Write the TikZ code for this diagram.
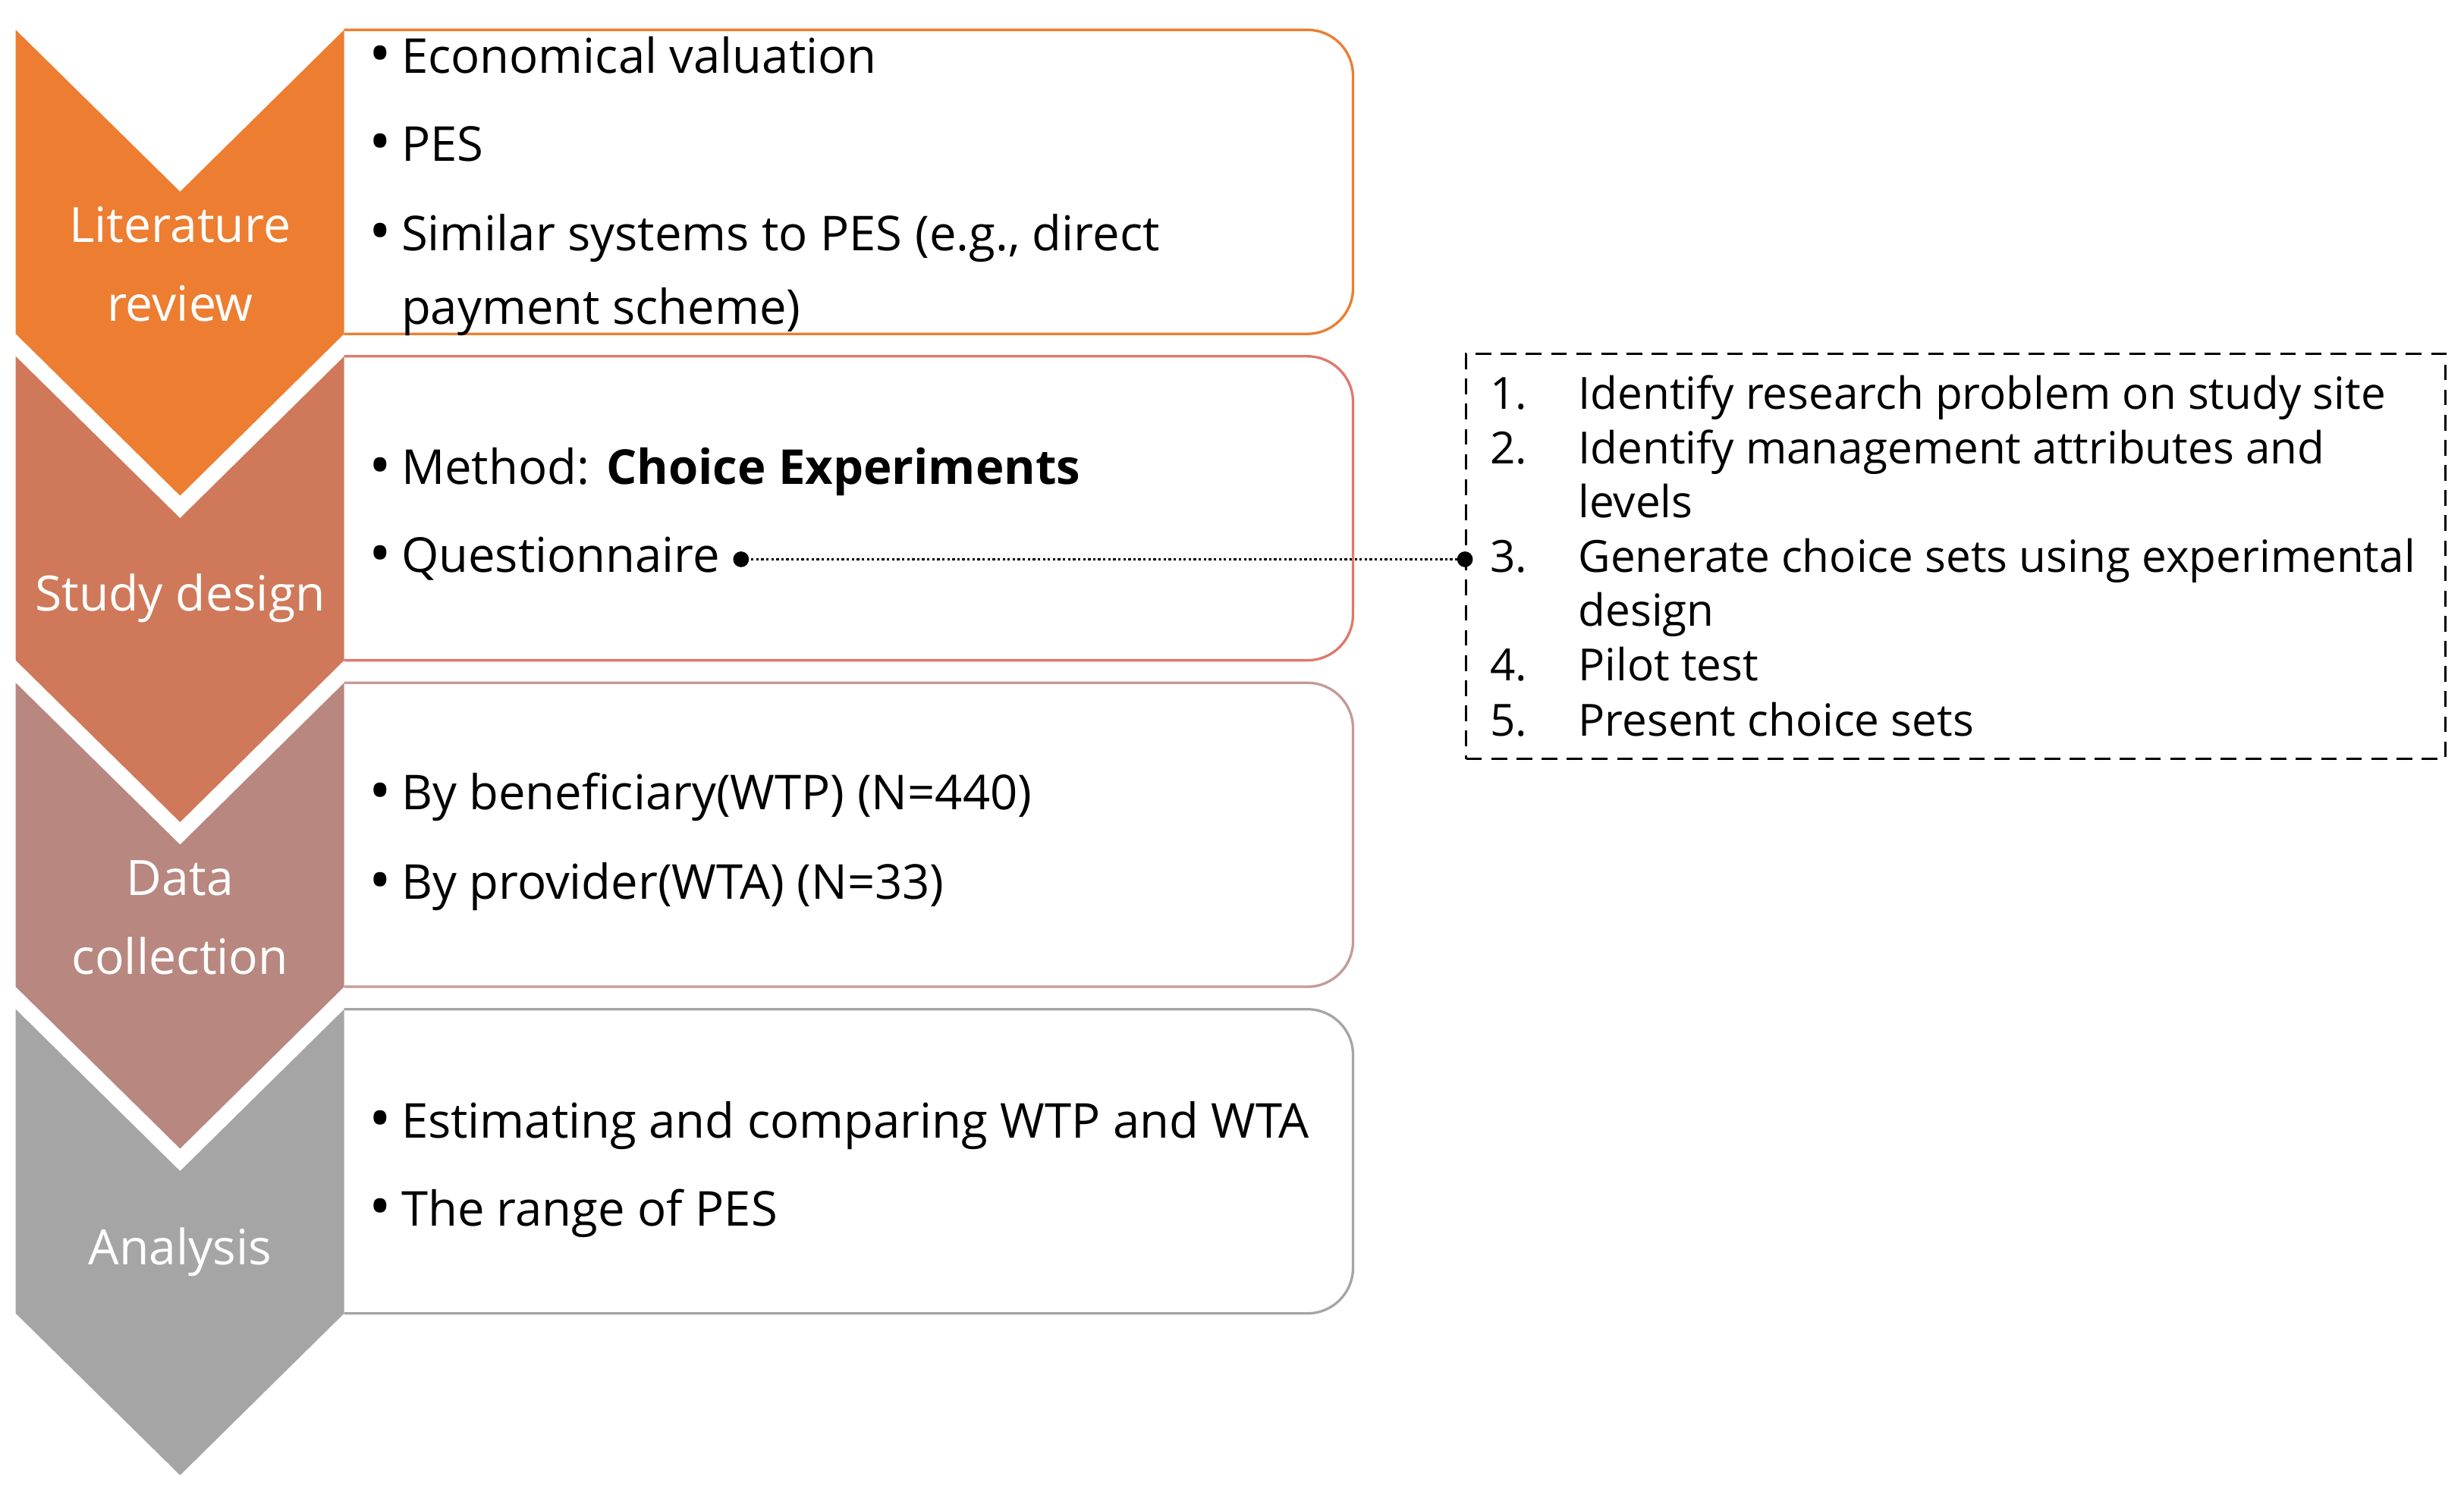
\documentclass[tikz,border=0pt]{standalone}
\usepackage{fontspec}
\setmainfont{Open Sans}
\usetikzlibrary{calc}
\definecolor{cOne}{HTML}{ED7D31}
\definecolor{cTwo}{HTML}{CF795A}
\definecolor{cThree}{HTML}{B88780}
\definecolor{cFour}{HTML}{A5A5A5}
\definecolor{bTwo}{HTML}{E0786C}
\definecolor{bThree}{HTML}{C49A98}
\newcommand{\blt}{\llap{\raisebox{-0.6pt}{\fontsize{19}{19}\selectfont •}\hspace{3.2pt}}}
\begin{document}
\begin{tikzpicture}[x=0.5pt,y=-0.5pt,
  boxtxt/.style={anchor=mid west, inner sep=0pt, font=\fontsize{15.3}{18}\selectfont, text=black},
  steptxt/.style={anchor=mid west, inner sep=0pt, font=\fontsize{14.1}{17}\selectfont, text=black},
  chevlabel/.style={align=center, text=white, inner sep=0pt, font=\fontsize{15.5}{25}\selectfont},
  panel/.style={line width=0.8pt, rounded corners=14.5pt},
  dotline/.style={line width=0.8pt, dash pattern=on 0.8pt off 0.8pt},
  stepsbox/.style={draw=black, line width=0.75pt, dash pattern=on 5pt off 3pt, inner sep=0pt, minimum width=311.5pt, minimum height=129pt}
]
\useasboundingbox (0,0) rectangle (1568,959);
\fill[white] (0,0) rectangle (1568,959);

% content panels
\draw[panel, draw=cOne]   (219,19)    -- (861,19)    -- (861,212.5) -- (219,212.5);
\draw[panel, draw=bTwo]   (219,226.8) -- (861,226.8) -- (861,420.3) -- (219,420.3);
\draw[panel, draw=bThree] (219,434.6) -- (861,434.6) -- (861,628.1) -- (219,628.1);
\draw[panel, draw=cFour]  (219,642.4) -- (861,642.4) -- (861,836)   -- (219,836);

% chevrons
\fill[cOne]   (10,19)    -- (114.6,122)   -- (219,19)    -- (219,212.5) -- (114.6,315.5) -- (10,212.5) -- cycle;
\fill[cTwo]   (10,226.8) -- (114.6,329.8) -- (219,226.8) -- (219,420.3) -- (114.6,523.3) -- (10,420.3) -- cycle;
\fill[cThree] (10,434.6) -- (114.6,537.6) -- (219,434.6) -- (219,628.1) -- (114.6,731.1) -- (10,628.1) -- cycle;
\fill[cFour]  (10,642.4) -- (114.6,745.4) -- (219,642.4) -- (219,836)   -- (114.6,939)   -- (10,836)   -- cycle;

% chevron labels
\node[chevlabel] (lab1) at (114.6,168) {Literature\\review};
\node[chevlabel] (lab2) at (114.6,381) {Study design};
\node[chevlabel] (lab3) at (114.6,584) {Data\\collection};
\node[chevlabel] (lab4) at (114.6,797) {Analysis};

% panel texts
\node[boxtxt] (a1) at (255,41)  {\blt Economical valuation};
\node[boxtxt] (a2) at (255,97)  {\blt PES};
\node[boxtxt] (a3) at (255,154) {\blt Similar systems to PES (e.g., direct};
\node[boxtxt] (a4) at (255,201) {payment scheme)};

\node[boxtxt] (b1) at (255,303) {\blt Method: \textbf{Choice Experiments}};
\node[boxtxt] (b2) at (255,359) {\blt Questionnaire};

\node[boxtxt] (c1) at (255,510) {\blt By beneficiary(WTP) (N=440)};
\node[boxtxt] (c2) at (255,567) {\blt By provider(WTA) (N=33)};

\node[boxtxt] (d1) at (255,719) {\blt Estimating and comparing WTP and WTA};
\node[boxtxt] (d2) at (255,775) {\blt The range of PES};

% steps box
\node[stepsbox] (steps) at (1244.5,354) {};
\node[steptxt] (n1) at (948,255) {1.};
\node[steptxt] (s1) at (1004,255) {Identify research problem on study site};
\node[steptxt] (n2) at (948,290) {2.};
\node[steptxt] (s2) at (1004,290) {Identify management attributes and};
\node[steptxt] (s2b) at (1004,324) {levels};
\node[steptxt] (n3) at (948,359) {3.};
\node[steptxt] (s3) at (1004,359) {Generate choice sets using experimental};
\node[steptxt] (s3b) at (1004,393) {design};
\node[steptxt] (n4) at (948,428) {4.};
\node[steptxt] (s4) at (1004,428) {Pilot test};
\node[steptxt] (n5) at (948,463) {5.};
\node[steptxt] (s5) at (1004,463) {Present choice sets};

% connector
\coordinate (qdot) at ([xshift=6.5pt,yshift=1.5pt]b2.mid east);
\coordinate (sdot) at (steps.west |- qdot);
\draw[dotline] (qdot) -- (sdot);
\fill (qdot) circle[radius=2.5pt];
\fill (sdot) circle[radius=2.5pt];
\end{tikzpicture}
\end{document}
